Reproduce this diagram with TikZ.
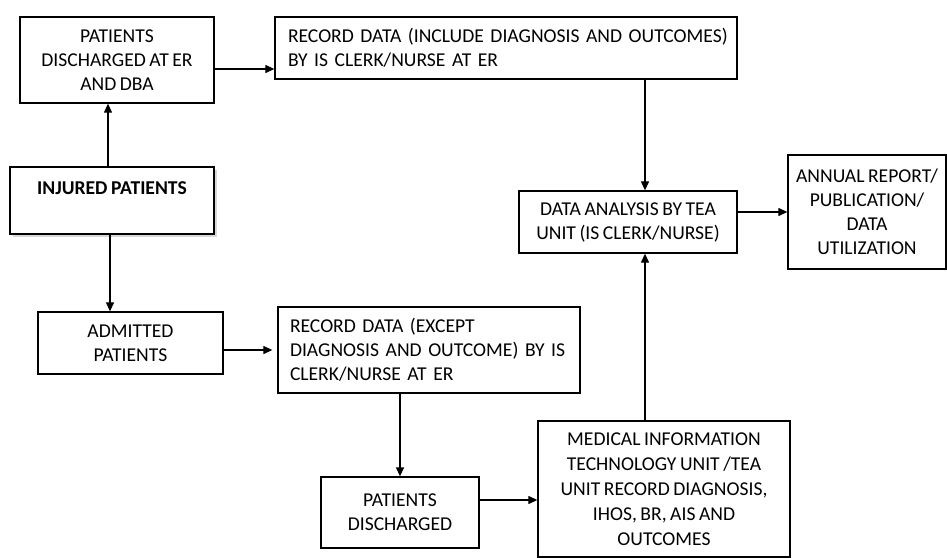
\documentclass[tikz,border=0pt]{standalone}
\usepackage{fontspec}
\setmainfont[WordSpace=0.8]{Carlito}
\usepackage{tikz}
\usetikzlibrary{arrows.meta,positioning,shadows}

\begin{document}
\begin{tikzpicture}[
  x=1pt, y=-1pt,
  font=\fontsize{19.6}{24}\selectfont,
  box/.style={draw, line width=1.3pt, align=center, inner sep=0pt},
  lbox/.style={draw, line width=1.3pt, align=left, inner xsep=12pt, inner ysep=0pt},
  arr/.style={-{Triangle[length=9pt,width=8pt]}, line width=1.2pt}
]
\useasboundingbox (0,0) rectangle (947,557);
% left column
\node[box, minimum width=194pt, minimum height=86pt] (disch) at (117,60) {PATIENTS\\DISCHARGED AT ER\\AND DBA};
\node[box, minimum width=204pt, minimum height=67pt, drop shadow={shadow xshift=2.5pt, shadow yshift=-2.5pt, fill=black!30}, fill=white] (injured) at (112,200.5) {\textbf{INJURED PATIENTS}\\~};
\node[box, minimum width=185pt, minimum height=62pt] (admit) at (130.5,343) {ADMITTED\\PATIENTS};
% record boxes
\node[lbox, inner xsep=13pt, text width=436pt, minimum height=62pt] (recin) at (506,48) {\mbox{RECORD DATA (INCLUDE DIAGNOSIS AND OUTCOMES)}\\BY IS CLERK/NURSE AT ER};
\node[lbox, text width=278pt, minimum height=86pt] (recex) at (429,350) {RECORD DATA (EXCEPT\\\mbox{DIAGNOSIS AND OUTCOME) BY IS}\\CLERK/NURSE AT ER};
\node[box, minimum width=158pt, minimum height=71pt] (pdisch) at (400,512.5) {PATIENTS\\DISCHARGED};
% right side
\node[box, minimum width=252pt, minimum height=136pt, font=\fontsize{19.6}{25}\selectfont] (mit) at (664,489) {MEDICAL INFORMATION\\TECHNOLOGY UNIT /TEA\\UNIT RECORD DIAGNOSIS,\\IHOS, BR, AIS AND\\OUTCOMES};
\node[box, minimum width=218pt, minimum height=62pt] (analysis) at (628,222) {DATA ANALYSIS BY TEA\\UNIT (IS CLERK/NURSE)};
\node[box, minimum width=158pt, minimum height=114pt] (report) at (867,212) {ANNUAL REPORT/\\PUBLICATION/\\DATA\\UTILIZATION};
% helper coordinates for connector rows/columns
\coordinate (col) at (645,0);
\coordinate (top) at (0,69);
\coordinate (low) at (0,500);
\draw[arr] (injured.north -| 108,0) -- (disch.south -| 108,0);
\draw[arr] (injured.south -| 110,0) -- (admit.north -| 110,0);
\draw[arr] (disch.east |- top) -- (recin.west |- top);
\draw[arr] (recin.south -| col) -- (analysis.north -| col);
\draw[arr] (admit.east |- recex.west) -- ([xshift=-5pt]recex.west);
\draw[arr] (pdisch.north |- recex.south) -- (pdisch.north);
\draw[arr] (pdisch.east |- low) -- (mit.west |- low);
\draw[arr] (mit.north -| col) -- (analysis.south -| col);
\draw[arr] (analysis.east |- report.west) -- (report.west);
\end{tikzpicture}
\end{document}
